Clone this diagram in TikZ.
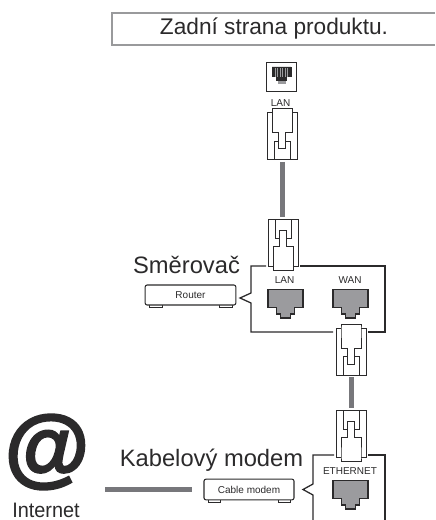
\documentclass[tikz,border=0pt]{standalone}
\usepackage{fontspec}
\setmainfont{Liberation Sans}
\newfontfamily\atfont[FakeBold=2.5]{Liberation Sans Bold}
\usepackage{xcolor}
\usepackage{tikz}
\definecolor{inkgray}{HTML}{2B2A2B}
\definecolor{cablegray}{HTML}{77777B}
\definecolor{portgray}{HTML}{9B9B9E}
\definecolor{framegray}{HTML}{999A9C}
\tikzset{
plugline/.style={draw=inkgray, line width=0.75pt, fill=white},
plugpic/.pic={
\draw[plugline] (-15,4) rectangle (15,51);
\draw[plugline] (-10,4) -- (-10,0) -- (10,0) -- (10,4) -- (10,24) -- (3.5,24) -- (3.5,40) -- (-3.5,40) -- (-3.5,24) -- (-10,24) -- cycle;
\draw[draw=inkgray, line width=0.5pt] (-8,51) -- (-8,32) -- (-3.5,32) (8,51) -- (8,32) -- (3.5,32);
\coordinate (-wide) at (0,51);
},
portpic/.pic={
\path[pic actions] (-17.5,0) -- (17.5,0) -- (17.5,18) -- (8.7,18) -- (8.7,24.5) -- (5.3,24.5) -- (5.3,28.5) -- (-5.3,28.5) -- (-5.3,24.5) -- (-8.7,24.5) -- (-8.7,18) -- (-17.5,18) -- cycle;
}
}

\begin{document}
\begin{tikzpicture}[x=0.75pt, y=-0.75pt,
smalltext/.style={font=\fontsize{7.5}{9}\selectfont, text=inkgray, inner sep=0pt, anchor=base},
bigtext/.style={font=\fontsize{17.8}{20}\selectfont, text=inkgray, inner sep=0pt, anchor=base},
box/.style={draw=inkgray, line width=0.8pt, rounded corners=1.5pt, fill=white, inner sep=0pt, outer sep=0pt, font=\fontsize{7.5}{9}\selectfont, text=inkgray, minimum height=15pt},
foot/.style={draw=inkgray, line width=0.6pt, fill=white},
panel/.style={draw=inkgray, line width=0.95pt},
cable/.style={draw=cablegray, line width=3.75pt, shorten >=1.5pt, shorten <=1.5pt},
port/.style={draw=inkgray, line width=0.9pt, fill=portgray}]

\useasboundingbox (0,0) rectangle (435,520);

% title strip, open on the right
\draw[draw=framegray, line width=1.25pt] (435,13) -- (112,13) -- (112,45) -- (435,45);
\node (title) [bigtext, font=\fontsize{17}{20}\selectfont] at (274,35) {Zadní strana produktu.};

% port of the product
\node (backport) [draw=inkgray, line width=0.7pt, minimum width=22.5pt, minimum height=21.5pt, inner sep=0pt] at (281.3,77.3) {};
\pic[draw=inkgray, fill=inkgray, scale=0.54, line width=0.5pt] at (281.5,67) {portpic};
\fill[portgray] (277.5,81) rectangle (285.5,84.5);
\draw[portgray, line width=0.5pt] (275,68) -- (275,77) (277.5,68) -- (277.5,77) (280,68) -- (280,77) (282.5,68) -- (282.5,77) (285,68) -- (285,77) (287.5,68) -- (287.5,77);
\node (lanback) [smalltext] at (280.5,107) {LAN};

% router
\node (routername) [bigtext] at (186.5,273) {Směrovač};
\draw[panel] (266,266) -- (251,266) -- (251,293) -- (240,298) -- (251,303) -- (251,332) -- (333,332);
\draw[panel] (368,332) -- (385,332) -- (385,266) -- (300,266);
\draw[foot] (149,304) rectangle (162,307.5);
\draw[foot] (219,304) rectangle (232,307.5);
\node (router) [box, minimum width=68pt] at (190.5,295) {Router};
\node (lanrouter) [smalltext] at (284.5,283.5) {LAN};
\node (wanrouter) [smalltext] at (350,283.5) {WAN};
\pic[port] at (285.5,289.5) {portpic};
\pic[port] at (350.5,289.5) {portpic};

% cable modem
\node (modemname) [bigtext] at (211.5,466) {Kabelový modem};
\draw[panel] (334,455) -- (313,455) -- (313,484) -- (303,489.5) -- (313,495) -- (313,520);
\draw[panel] (368,455) -- (385,455) -- (385,520);
\draw[foot] (208,499) rectangle (220,502.5);
\draw[foot] (278,499) rectangle (290,502.5);
\node (cablemodem) [box, minimum width=67.5pt, minimum height=15.5pt] at (249,489.5) {Cable modem};
\node (ethernet) [smalltext] at (350,474.5) {ETHERNET};
\pic[port] at (350.5,480.5) {portpic};

% plugs
\pic (plugback) at (282.3,109) {plugpic};
\pic[yscale=-1] (plugrouter) at (283.3,270) {plugpic};
\pic (plugwan) at (351,324) {plugpic};
\pic[yscale=-1] (plugmodem) at (351,461) {plugpic};

% internet
\node (atsign) [inner sep=0pt, text=inkgray, font=\fontsize{65}{70}\atfont] at (47,452) {@};
\node (internet) [inner sep=0pt, anchor=base, text=inkgray, font=\fontsize{15.7}{17}\selectfont, xscale=0.95] at (46,517) {Internet};
\coordinate (lineend) at (105,489.5);

\draw[cable] (plugback-wide) -- (plugback-wide |- plugrouter-wide);
\draw[cable] (plugwan-wide) -- (plugwan-wide |- plugmodem-wide);
\draw[cable, shorten <=0pt, shorten >=9pt] (lineend) -- (cablemodem.west);

\end{tikzpicture}
\end{document}
